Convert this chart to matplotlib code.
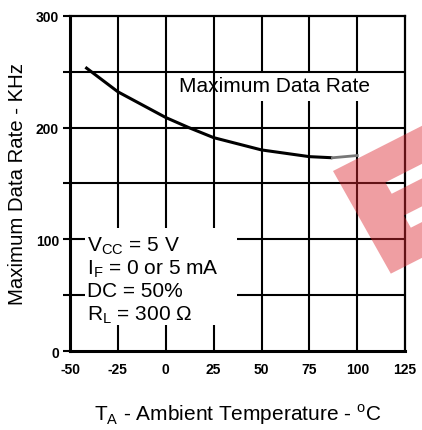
import matplotlib
matplotlib.use("Agg")
import matplotlib.pyplot as plt
from matplotlib.patches import Polygon
import numpy as np

plt.rcParams['font.family'] = ['Liberation Sans', 'DejaVu Sans']

# curve (temperature in C, rate in kHz)
temp = [-42, -25, 0, 12, 25, 50, 75, 87]
rate = [254, 232, 209, 200, 191, 180, 174, 173]
# faint tail of the curve
tail_temp = [87, 100]
tail_rate = [173, 175]

x_ticks = [-50, -25, 0, 25, 50, 75, 100, 125]
y_ticks = [0, 50, 100, 150, 200, 250, 300]
y_labels = ['0', '', '100', '', '200', '', '300']

cond_lines = [r'V$_{\mathregular{CC}}$ = 5 V',
              r'I$_{\mathregular{F}}$ = 0 or 5 mA',
              'DC = 50%',
              r'R$_{\mathregular{L}}$ = 300 Ω']

fig = plt.figure(figsize=(4.22, 4.31), dpi=100)
ax = fig.add_axes([0.166, 0.183, 0.794, 0.778])
ax.set_xlim(-50, 125)
ax.set_ylim(0, 300)

for side in ['left', 'bottom']:
    ax.spines[side].set_linewidth(2.2)
for side in ['top', 'right']:
    ax.spines[side].set_linewidth(1.6)

# grid, broken where the text boxes sit
gw = 1.5
for xv in [-25, 0, 25]:
    ax.vlines(xv, 110, 300, color='black', lw=gw)
    ax.vlines(xv, 0, 23, color='black', lw=gw)
for xv in [50, 75, 100]:
    ax.vlines(xv, 0, 224, color='black', lw=gw)
    ax.vlines(xv, 250, 300, color='black', lw=gw)
for yv in [150, 200, 250]:
    ax.hlines(yv, -50, 125, color='black', lw=gw)
for yv in [50, 100]:
    ax.hlines(yv, -50, -42, color='black', lw=gw)
    ax.hlines(yv, 37, 125, color='black', lw=gw)

ax.plot(temp, rate, color='black', lw=2.2, solid_capstyle='butt')
ax.plot(tail_temp, tail_rate, color='#777777', lw=2.0)

ax.set_xticks(x_ticks)
ax.set_xticklabels([str(v) for v in x_ticks], fontweight='bold')
ax.set_yticks(y_ticks)
ax.set_yticklabels(y_labels, fontweight='bold')
ax.tick_params(axis='x', length=0, pad=8, labelsize=10)
ax.tick_params(axis='y', length=5, width=1.5, pad=3, labelsize=10)
ax.set_xticks([-50, 125], minor=True)
ax.tick_params(axis='x', which='minor', length=5, width=1.5)

ax.text(57, 238, 'Maximum Data Rate', fontsize=15, ha='center', va='center')
for i, line in enumerate(cond_lines):
    ax.text(-41, 90 - i * 20.5, line, fontsize=15, ha='left', va='baseline')

ax.set_ylabel('Maximum Data Rate - KHz', fontsize=14.7, labelpad=6)
ax.set_xlabel(r'T$_{\mathregular{A}}$ - Ambient Temperature - $^{\mathregular{o}}$C',
              fontsize=15, labelpad=18)

# red watermark fragment (rotated "E"), in pixel coords
ov = fig.add_axes([0, 0, 1, 1], zorder=10)
ov.set_xlim(0, 422)
ov.set_ylim(431, 0)
ov.axis('off')
A = np.array([333.0, 172.0])
u = np.array([0.892, -0.453])
v = np.array([0.49, 0.87])

e_shape = [(0, 0), (200, 0), (200, 34), (40, 34), (40, 47), (200, 47),
           (200, 72), (40, 72), (40, 86), (200, 86), (200, 118), (0, 118)]
pts = [A + s * u + t * v for s, t in e_shape]
ov.add_patch(Polygon(pts, closed=True, facecolor='#dc2832', alpha=0.45, lw=0))

fig.savefig('out.png', dpi=100)
